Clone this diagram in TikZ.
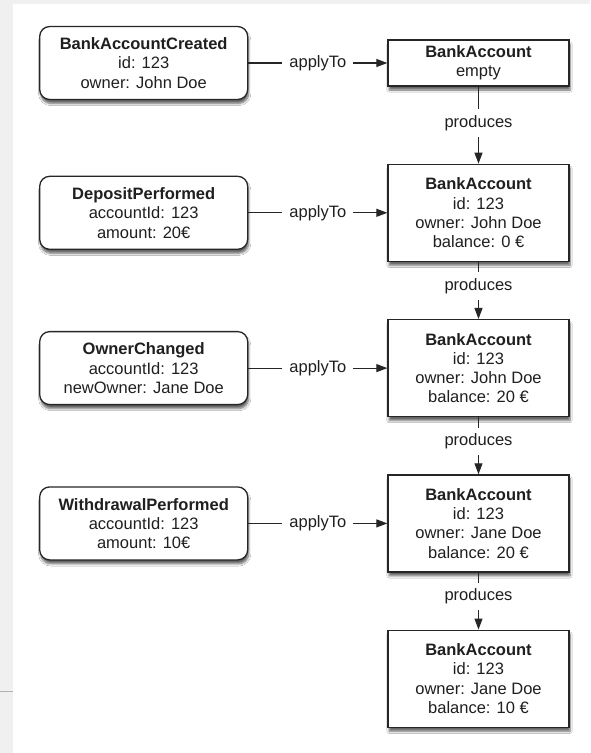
\documentclass[tikz,border=0pt]{standalone}
\usepackage{fontspec}
\setmainfont{Liberation Sans}
\usetikzlibrary{positioning,arrows.meta,shadows.blur}

\begin{document}
\begin{tikzpicture}[x=1pt,y=-1pt,
    every node/.style={font=\fontsize{16.5}{19.3}\selectfont, align=center, text=black!88},
    box/.style={draw=black!85, line width=1.3pt, fill=white,
        blur shadow={shadow xshift=1pt, shadow yshift=-4pt, shadow blur steps=6, shadow opacity=60}},
    event/.style={box, rounded corners=10pt, minimum width=208pt, minimum height=73pt},
    acct/.style={box, minimum width=181pt, minimum height=97pt},
    lbl/.style={fill=white, inner xsep=7pt, inner ysep=6pt},
    link/.style={draw=black!85, line width=1.1pt, -{Triangle[length=11pt,width=8pt]}}]
    % frame of the screenshot
    \useasboundingbox (0,0) rectangle (590,753);
    \fill[black!6] (0,0) rectangle (590,753);
    \fill[white] (12.7,4) rectangle (590,753);
    \draw[black!30, line width=1.5pt] (0,691.7) -- (12.7,691.7);

    % states of the account
    \node[acct, minimum height=46pt] (a0) at (478.5,63) {\textbf{BankAccount}\\empty};
    \node[acct, below=77pt of a0] (a1) {\textbf{BankAccount}\\id: 123\\owner: John Doe\\balance: 0 €};
    \node[acct, below=57pt of a1] (a2) {\textbf{BankAccount}\\id: 123\\owner: John Doe\\balance: 20 €};
    \node[acct, below=57pt of a2] (a3) {\textbf{BankAccount}\\id: 123\\owner: Jane Doe\\balance: 20 €};
    \node[acct, below=57pt of a3] (a4) {\textbf{BankAccount}\\id: 123\\owner: Jane Doe\\balance: 10 €};

    % events
    \node[event, left=139pt of a0] (e0) {\textbf{BankAccountCreated}\\id: 123\\owner: John Doe};
    \node[event, left=139pt of a1] (e1) {\textbf{DepositPerformed}\\accountId: 123\\amount: 20€};
    \node[event, left=139pt of a2] (e2) {\textbf{OwnerChanged}\\accountId: 123\\newOwner: Jane Doe};
    \node[event, left=139pt of a3] (e3) {\textbf{WithdrawalPerformed}\\accountId: 123\\amount: 10€};

    \foreach \i in {0,...,3} {
        \draw[link] (e\i) -- node[lbl] {applyTo} (a\i);
    }
    \draw[link] (a0) -- node[lbl, pos=0.47] {produces} (a1);
    \foreach \i/\j in {1/2,2/3,3/4} {
        \draw[link] (a\i) -- node[lbl, pos=0.42] {produces} (a\j);
    }
\end{tikzpicture}
\end{document}
